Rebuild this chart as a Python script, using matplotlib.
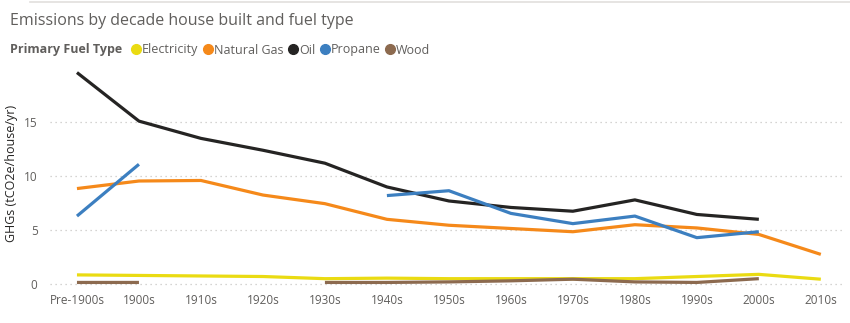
import matplotlib
matplotlib.use("Agg")
import numpy as np
import matplotlib.pyplot as plt
from matplotlib.lines import Line2D

plt.rcParams["font.family"] = ["Open Sans", "DejaVu Sans"]

decades = ["Pre-1900s", "1900s", "1910s", "1920s", "1930s", "1940s", "1950s",
           "1960s", "1970s", "1980s", "1990s", "2000s", "2010s"]
nan = np.nan
electricity = [0.85, 0.8, 0.75, 0.7, 0.5, 0.55, 0.5, 0.5, 0.5, 0.5, 0.7, 0.9, 0.45]
natural_gas = [8.85, 9.55, 9.6, 8.25, 7.45, 6.0, 5.45, 5.15, 4.85, 5.5, 5.2, 4.6, 2.75]
oil = [19.6, 15.1, 13.5, 12.4, 11.2, 9.0, 7.7, 7.1, 6.75, 7.8, 6.45, 6.0, nan]
propane = [6.3, 11.1, nan, nan, nan, 8.2, 8.65, 6.55, 5.6, 6.3, 4.3, 4.85, nan]
wood = [0.15, 0.15, nan, nan, 0.15, 0.15, 0.2, 0.3, 0.45, 0.2, 0.15, 0.5, nan]

series = [("Electricity", electricity, "#EADB12"),
          ("Natural Gas", natural_gas, "#F5891A"),
          ("Oil", oil, "#252423"),
          ("Propane", propane, "#3C7FC0"),
          ("Wood", wood, "#8C6A4F")]

W, H = 850, 323
fig = plt.figure(figsize=(W / 100, H / 100), dpi=100)
ax = fig.add_axes([50 / W, 1 - 290 / H, 795 / W, 225 / H])

x = np.arange(len(decades))
for name, vals, col in series:
    ax.plot(x, vals, color=col, lw=2.3, solid_capstyle="butt", solid_joinstyle="round")

ax.set_xlim(-0.435, 12.39)
ax.set_ylim(-0.55, 20.3)
ax.set_yticks([0, 5, 10, 15])
ax.set_xticks(x)
ax.set_xticklabels(decades)
ax.tick_params(axis="both", length=0, labelsize=8.5, colors="#605E5C", pad=3)
ax.tick_params(axis="y", pad=9)
ax.yaxis.grid(True, linestyle=(0, (1, 3)), color="#C8C6C4", lw=0.9)
ax.set_axisbelow(True)
for s in ax.spines.values():
    s.set_visible(False)
ax.set_ylabel("GHGs (tCO2e/house/yr)", fontsize=9, color="#252423")
ax.yaxis.set_label_coords(-32 / 795, 0.52)

# top separator line
fig.add_artist(Line2D([30 / W, 1], [1 - 2 / H, 1 - 2 / H], color="#E1DFDD", lw=1.2))

fig.text(10 / W, 1 - 21 / H, "Emissions by decade house built and fuel type",
         fontsize=11.5, color="#605E5C", va="center", ha="left")
fig.text(10 / W, 1 - 50 / H, "Primary Fuel Type", fontsize=9, fontweight="bold",
         color="#605E5C", va="center", ha="left")

handles = [Line2D([], [], marker="o", ls="none", color=c, markersize=7) for _, _, c in series]
fig.legend(handles, [n for n, _, _ in series], loc="center left",
           bbox_to_anchor=(128 / W, 1 - 50 / H), ncol=5, frameon=False,
           handletextpad=-0.1, columnspacing=0.15, handlelength=1.2,
           fontsize=9, labelcolor="#605E5C", borderaxespad=0, borderpad=0)

fig.savefig("out.png", dpi=100)
